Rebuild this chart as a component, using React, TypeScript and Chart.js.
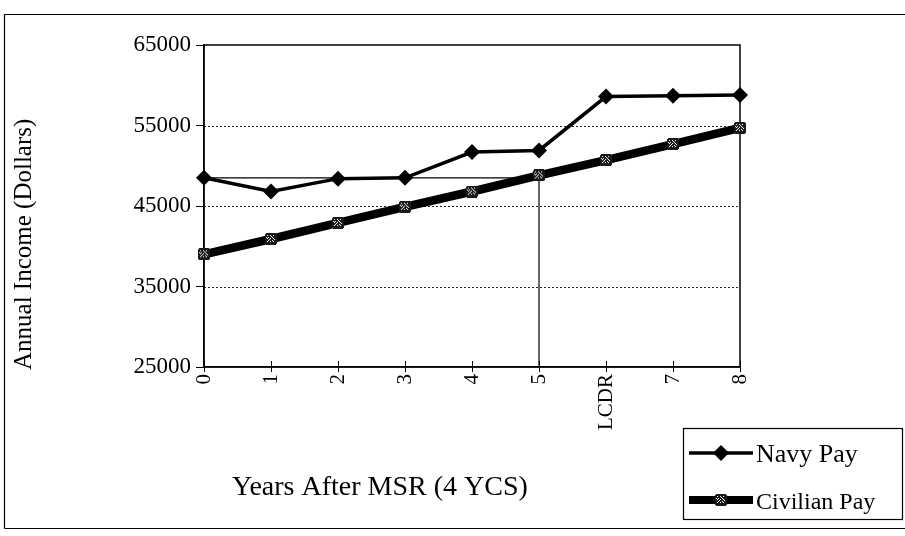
import React, { useEffect, useRef } from 'react';
import { Chart, registerables } from 'chart.js';

Chart.register(...registerables);

const categories = ['0', '1', '2', '3', '4', '5', 'LCDR', '7', '8'];
const navyPay = [48500, 46800, 48400, 48500, 51700, 51900, 58600, 58700, 58800];
const civilianPay = [39000, 40900, 42900, 44900, 46800, 48800, 50700, 52700, 54700];
const breakEvenX = ['0', '5', '5'];
const breakEvenY = [48500, 48500, 25000];
const yTickValues = [25000, 35000, 45000, 55000, 65000];
const seriesNames = ['Navy Pay', 'Civilian Pay'];
const xAxisTitle = 'Years After MSR (4 YCS)';
const yAxisTitle = 'Annual Income (Dollars)';

const FONT = '"Liberation Serif", "Times New Roman", serif';

function makeCivilianMarker(): HTMLCanvasElement {
  const c = document.createElement('canvas');
  c.width = 12;
  c.height = 12;
  const g = c.getContext('2d')!;
  g.fillStyle = '#1a1a1a';
  g.fillRect(0, 0, 12, 12);
  g.fillStyle = '#ffffff';
  const holes = [
    [2, 2], [5, 2], [8, 2],
    [3, 4], [7, 4],
    [2, 5], [5, 5], [8, 5],
    [3, 7], [7, 7],
    [2, 8], [5, 8], [8, 8],
    [4, 6], [6, 3], [9, 6], [1, 4],
  ];
  for (const [i, j] of holes) g.fillRect(i, j, 1, 1);
  g.clearRect(0, 0, 1, 1);
  g.clearRect(11, 0, 1, 1);
  g.clearRect(0, 11, 1, 1);
  g.clearRect(11, 11, 1, 1);
  return c;
}

export default function App() {
  const canvasRef = useRef<HTMLCanvasElement | null>(null);

  useEffect(() => {
    const canvas = canvasRef.current;
    if (!canvas) return;
    const marker = makeCivilianMarker();

    const decorPlugin = {
      id: 'decor',
      beforeDraw(chart: any) {
        const { ctx, width, height } = chart;
        ctx.save();
        ctx.fillStyle = '#ffffff';
        ctx.fillRect(0, 0, width, height);
        ctx.restore();
      },
      beforeDatasetsDraw(chart: any) {
        const { ctx, chartArea: a, scales } = chart;
        const ys = scales.y;
        const xs = scales.x;
        ctx.save();
        ctx.strokeStyle = '#222';
        ctx.lineWidth = 1;
        ctx.setLineDash([2, 2]);
        for (const v of yTickValues) {
          if (v === ys.min || v === ys.max) continue;
          const py = Math.round(ys.getPixelForValue(v)) + 0.5;
          ctx.beginPath();
          ctx.moveTo(a.left, py);
          ctx.lineTo(a.right, py);
          ctx.stroke();
        }
        ctx.setLineDash([]);
        ctx.strokeStyle = '#000';
        ctx.lineWidth = 1.5;
        ctx.strokeRect(a.left, a.top, a.right - a.left, a.bottom - a.top);
        ctx.lineWidth = 1;
        for (let i = 0; i < categories.length; i++) {
          const px = Math.round(xs.getPixelForValue(i)) + 0.5;
          ctx.beginPath();
          ctx.moveTo(px, a.bottom - 6);
          ctx.lineTo(px, a.bottom);
          ctx.stroke();
        }
        ctx.restore();
      },
      afterDraw(chart: any) {
        const { ctx } = chart;
        ctx.save();
        ctx.fillStyle = '#000';
        ctx.strokeStyle = '#000';

        // outer frame
        ctx.lineWidth = 1.2;
        ctx.beginPath();
        ctx.moveTo(4.5, 528.5);
        ctx.lineTo(4.5, 14.5);
        ctx.lineTo(905, 14.5);
        ctx.moveTo(4.5, 528.5);
        ctx.lineTo(905, 528.5);
        ctx.stroke();

        // y axis title
        ctx.save();
        ctx.translate(31, 370);
        ctx.rotate(-Math.PI / 2);
        ctx.font = `25px ${FONT}`;
        ctx.textAlign = 'left';
        ctx.textBaseline = 'alphabetic';
        ctx.fillText(yAxisTitle, 0, 0);
        ctx.restore();

        // x axis title
        ctx.save();
        ctx.font = `28px ${FONT}`;
        ctx.textAlign = 'left';
        ctx.textBaseline = 'alphabetic';
        ctx.fillText(xAxisTitle, 232, 495);
        ctx.restore();

        // legend
        ctx.lineWidth = 1.2;
        ctx.strokeRect(683.5, 428.5, 219, 91);
        // navy
        ctx.lineWidth = 3.5;
        ctx.beginPath();
        ctx.moveTo(689, 453);
        ctx.lineTo(753, 453);
        ctx.stroke();
        ctx.beginPath();
        ctx.moveTo(721, 445);
        ctx.lineTo(729, 453);
        ctx.lineTo(721, 461);
        ctx.lineTo(713, 453);
        ctx.closePath();
        ctx.fill();
        // civilian
        ctx.lineWidth = 8;
        ctx.beginPath();
        ctx.moveTo(689, 500);
        ctx.lineTo(753, 500);
        ctx.stroke();
        ctx.drawImage(marker, 721 - 6, 500 - 6);
        ctx.textAlign = 'left';
        ctx.textBaseline = 'alphabetic';
        ctx.font = `26px ${FONT}`;
        ctx.fillText(seriesNames[0], 756, 462);
        ctx.font = `24px ${FONT}`;
        ctx.fillText(seriesNames[1], 756, 509);
        ctx.restore();
      },
    };

    const chart = new Chart(canvas, {
      type: 'line',
      data: {
        labels: categories,
        datasets: [
          {
            label: seriesNames[0],
            data: navyPay,
            borderColor: '#000',
            backgroundColor: '#000',
            borderWidth: 3.5,
            pointStyle: 'rectRot',
            pointRadius: 8,
            pointBorderWidth: 0,
            pointBackgroundColor: '#000',
            tension: 0,
          },
          {
            label: seriesNames[1],
            data: civilianPay,
            borderColor: '#000',
            backgroundColor: '#000',
            borderWidth: 8.5,
            pointStyle: marker as any,
            pointRadius: 6,
            tension: 0,
          },
          {
            label: 'break-even',
            data: breakEvenX.map((x, i) => ({ x, y: breakEvenY[i] })) as any,
            borderColor: '#000',
            borderWidth: 1.2,
            pointRadius: 0,
            tension: 0,
          },
        ],
      },
      options: {
        responsive: false,
        animation: false,
        events: [],
        layout: { padding: { top: 45, right: 165, bottom: 89, left: 0 } },
        plugins: {
          legend: { display: false },
          tooltip: { enabled: false },
          title: { display: false },
        },
        scales: {
          x: {
            type: 'category',
            offset: false,
            grid: {
              drawOnChartArea: false,
              drawTicks: true,
              tickLength: 5,
              tickColor: '#000',
              tickWidth: 1,
            },
            border: { display: true, color: '#000', width: 1.5 },
            ticks: {
              autoSkip: false,
              minRotation: 90,
              maxRotation: 90,
              padding: 2,
              color: '#000',
              font: { family: FONT, size: 21 },
            },
            afterFit: (s: any) => {
              s.height = 80;
            },
          },
          y: {
            type: 'linear',
            min: 25000,
            max: 65000,
            grid: {
              drawOnChartArea: false,
              drawTicks: true,
              tickLength: 8,
              tickColor: '#000',
              tickWidth: 1,
            },
            border: { display: true, color: '#000', width: 1.5 },
            afterBuildTicks: (s: any) => {
              s.ticks = yTickValues.map((v) => ({ value: v }));
            },
            ticks: {
              color: '#000',
              padding: 5,
              font: { family: FONT, size: 23 },
              callback: (v: any) => String(v),
            },
            afterFit: (s: any) => {
              s.width = 204;
            },
          },
        },
      },
      plugins: [decorPlugin],
    });

    return () => {
      chart.destroy();
    };
  }, []);

  return (
    <div style={{ position: 'absolute', left: 0, top: 0, width: 905, height: 536, background: '#fff' }}>
      <canvas ref={canvasRef} width={905} height={536} style={{ display: 'block', width: 905, height: 536 }} />
    </div>
  );
}
